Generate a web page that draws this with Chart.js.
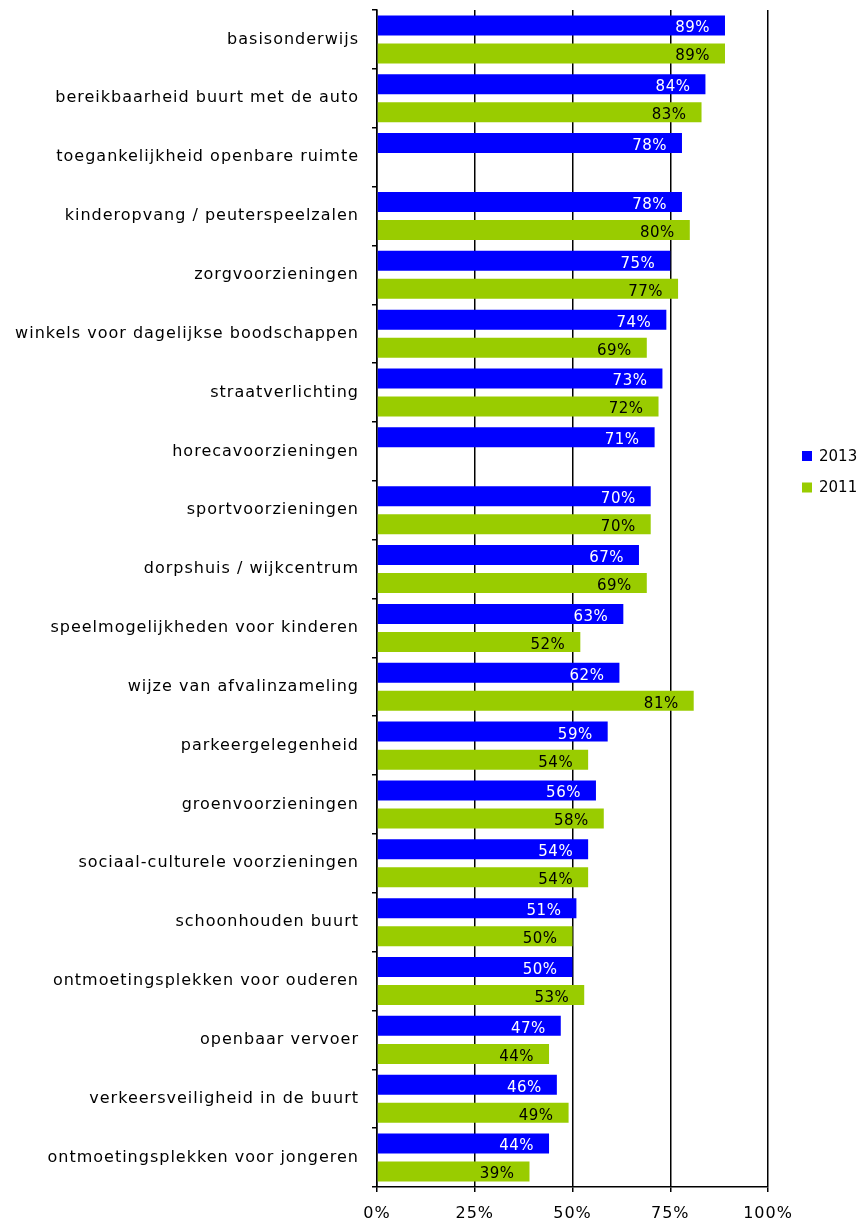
<!DOCTYPE html>
<html>
<head>
<meta charset="utf-8">
<script src="https://cdn.jsdelivr.net/npm/chart.js@4"></script>
<style>
  html, body { margin: 0; padding: 0; background: #fff; }
  #wrap { width: 859px; height: 1227px; }
</style>
</head>
<body>
<div id="wrap"><canvas id="chart" width="859" height="1227"></canvas></div>
<script>
const categories = [
  'basisonderwijs',
  'bereikbaarheid buurt met de auto',
  'toegankelijkheid openbare ruimte',
  'kinderopvang / peuterspeelzalen',
  'zorgvoorzieningen',
  'winkels voor dagelijkse boodschappen',
  'straatverlichting',
  'horecavoorzieningen',
  'sportvoorzieningen',
  'dorpshuis / wijkcentrum',
  'speelmogelijkheden voor kinderen',
  'wijze van afvalinzameling',
  'parkeergelegenheid',
  'groenvoorzieningen',
  'sociaal-culturele voorzieningen',
  'schoonhouden buurt',
  'ontmoetingsplekken voor ouderen',
  'openbaar vervoer',
  'verkeersveiligheid in de buurt',
  'ontmoetingsplekken voor jongeren'
];
const values2013 = [89, 84, 78, 78, 75, 74, 73, 71, 70, 67, 63, 62, 59, 56, 54, 51, 50, 47, 46, 44];
const values2011 = [89, 83, null, 80, 77, 69, 72, null, 70, 69, 52, 81, 54, 58, 54, 50, 53, 44, 49, 39];
const xTicks = [0, 25, 50, 75, 100];
const seriesNames = ['2013', '2011'];

const FONT = 'DejaVu Sans';
const blue = '#0000ff';
const green = '#99cc00';

// the original font is spaced out a little
const spacing = {
  id: 'spacing',
  beforeDraw(chart) { chart.ctx.letterSpacing = '1px'; }
};

// value labels inside the bar ends
const barLabels = {
  id: 'barLabels',
  afterDatasetsDraw(chart) {
    const ctx = chart.ctx;
    ctx.save();
    ctx.letterSpacing = '0.5px';
    ctx.font = '15px "' + FONT + '"';
    ctx.textAlign = 'right';
    ctx.textBaseline = 'middle';
    chart.data.datasets.forEach((ds, i) => {
      const meta = chart.getDatasetMeta(i);
      ctx.fillStyle = i === 0 ? '#ffffff' : '#000000';
      meta.data.forEach((bar, j) => {
        const v = ds.data[j];
        if (v === null || v === undefined) return;
        ctx.fillText(v + '%', bar.x - 15, bar.y + 3);
      });
    });
    ctx.restore();
  }
};

// small legend right of the plot
const sideLegend = {
  id: 'sideLegend',
  afterDraw(chart) {
    const ctx = chart.ctx;
    ctx.save();
    ctx.letterSpacing = '0px';
    ctx.font = '15px "' + FONT + '"';
    ctx.textAlign = 'left';
    ctx.textBaseline = 'middle';
    const cols = [blue, green];
    seriesNames.forEach((name, i) => {
      const y = 451 + i * 31.5;
      ctx.fillStyle = cols[i];
      ctx.fillRect(802, y, 10, 10);
      ctx.fillStyle = '#000';
      ctx.fillText(name, 819, y + 6);
    });
    ctx.restore();
  }
};

new Chart(document.getElementById('chart'), {
  type: 'bar',
  data: {
    labels: categories,
    datasets: [
      { label: seriesNames[0], data: values2013, backgroundColor: blue },
      { label: seriesNames[1], data: values2011, backgroundColor: green }
    ]
  },
  options: {
    indexAxis: 'y',
    responsive: false,
    animation: false,
    categoryPercentage: 0.952,
    barPercentage: 0.714,
    layout: { padding: { top: 10, right: 91, left: 0, bottom: 0 } },
    plugins: {
      legend: { display: false },
      tooltip: { enabled: false }
    },
    scales: {
      x: {
        min: 0,
        max: 100,
        afterBuildTicks: (scale) => { scale.ticks = xTicks.map(v => ({ value: v })); },
        afterFit: (scale) => { scale.height = 40; scale.paddingLeft = 0; },
        grid: { color: '#000', lineWidth: 1.5, tickLength: 5, drawTicks: true },
        border: { display: true, color: '#000', width: 1.5 },
        ticks: {
          color: '#000',
          font: { family: FONT, size: 16 },
          padding: 12,
          maxRotation: 0,
          callback: (v) => v + '%'
        }
      },
      y: {
        afterFit: (scale) => { scale.width = 377; scale.paddingTop = 0; scale.paddingBottom = 0; },
        grid: { drawOnChartArea: false, drawTicks: true, tickLength: 5, color: '#000', lineWidth: 1.5 },
        border: { display: true, color: '#000', width: 1.5 },
        ticks: {
          color: '#000',
          font: { family: FONT, size: 16 },
          padding: 13,
          autoSkip: false
        }
      }
    }
  },
  plugins: [spacing, barLabels, sideLegend]
});
</script>
</body>
</html>
